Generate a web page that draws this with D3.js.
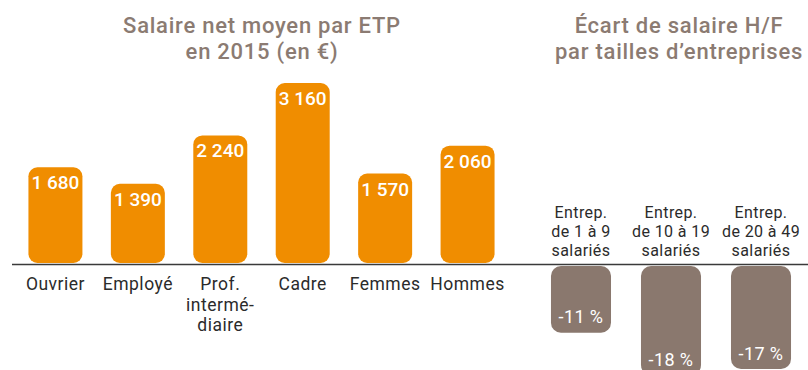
<!DOCTYPE html>
<html>
<head>
<meta charset="utf-8">
<script src="https://cdn.jsdelivr.net/npm/d3@7"></script>
<style>
  html, body { margin: 0; padding: 0; background: #fff; }
  svg { display: block; font-family: "Roboto", "DejaVu Sans", sans-serif; }
</style>
</head>
<body>
<svg id="chart" width="808" height="370"></svg>
<script>
// Salaire net moyen par ETP en 2015 (en €)
const salaryCategories = ["Ouvrier", "Employé", "Prof. intermé- diaire", "Cadre", "Femmes", "Hommes"];
const salaryLabelLines = [["Ouvrier"], ["Employé"], ["Prof.", "intermé-", "diaire"], ["Cadre"], ["Femmes"], ["Hommes"]];
const salaryValues = [1680, 1390, 2240, 3160, 1570, 2060];

// Écart de salaire H/F par tailles d'entreprises (en %)
const gapCategories = ["1-9", "10-19", "20-49"];
const gapLabelLines = [["Entrep.", "de 1 à 9", "salariés"], ["Entrep.", "de 10 à 19", "salariés"], ["Entrep.", "de 20 à 49", "salariés"]];
const gapValues = [-11, -18, -17];

const titleLeft = ["Salaire net moyen par ETP", "en 2015 (en €)"];
const titleRight = ["Écart de salaire H/F", "par tailles d’entreprises"];

const ORANGE = "#F08D00";
const TAUPE = "#8A786E";
const TITLE = "#8B7B72";
const INK = "#2b2b2b";

const svg = d3.select("#chart");
const fmt = v => d3.format(",")(v).replace(/,/g, " ");

// ---- Left panel: salaries ----
const xL = d3.scaleBand().domain(salaryCategories).range([0, 523]).paddingInner(0.345).paddingOuter(0.345);
const yL = d3.scaleLinear().domain([0, 3160]).range([263, 83]);

const left = svg.append("g");
left.selectAll("rect").data(salaryValues).join("rect")
  .attr("x", (d, i) => xL(salaryCategories[i]))
  .attr("width", xL.bandwidth())
  .attr("y", d => yL(d))
  .attr("height", d => yL(0) - yL(d))
  .attr("rx", 9).attr("ry", 9)
  .attr("fill", ORANGE);

left.selectAll("text.val").data(salaryValues).join("text")
  .attr("class", "val")
  .attr("x", (d, i) => xL(salaryCategories[i]) + xL.bandwidth() / 2)
  .attr("y", d => yL(d) + 22)
  .attr("text-anchor", "middle")
  .attr("fill", "#fff")
  .attr("font-size", 19)
  .attr("font-weight", 500)
  .text(d => fmt(d));

left.selectAll("text.cat").data(salaryLabelLines).join("text")
  .attr("class", "cat")
  .attr("text-anchor", "middle")
  .attr("fill", INK)
  .attr("font-size", 17.5)
  .attr("letter-spacing", 0.5)
  .each(function(lines, i) {
    const t = d3.select(this);
    const cx = xL(salaryCategories[i]) + xL.bandwidth() / 2;
    lines.forEach((ln, j) => {
      t.append("tspan").attr("x", cx).attr("y", 290 + j * 20.5).text(ln);
    });
  });

// ---- Right panel: pay gap ----
const xR = d3.scaleBand().domain(gapCategories).range([521, 821]).paddingInner(0.333).paddingOuter(0.333);
const yR = d3.scaleLinear().domain([0, -17]).range([266, 369]);

const right = svg.append("g");
right.selectAll("rect").data(gapValues).join("rect")
  .attr("x", (d, i) => xR(gapCategories[i]))
  .attr("width", xR.bandwidth())
  .attr("y", yR(0))
  .attr("height", d => yR(d) - yR(0))
  .attr("rx", 10).attr("ry", 10)
  .attr("fill", TAUPE);

right.selectAll("text.val").data(gapValues).join("text")
  .attr("class", "val")
  .attr("x", (d, i) => xR(gapCategories[i]) + xR.bandwidth() / 2)
  .attr("y", d => yR(d) - 9.5)
  .attr("text-anchor", "middle")
  .attr("fill", "#fff")
  .attr("font-size", 18)
  .attr("letter-spacing", 0.4)
  .text(d => d + " %");

right.selectAll("text.cat").data(gapLabelLines).join("text")
  .attr("class", "cat")
  .attr("text-anchor", "middle")
  .attr("fill", INK)
  .attr("font-size", 16)
  .attr("letter-spacing", 0.4)
  .each(function(lines, i) {
    const t = d3.select(this);
    const cx = xR(gapCategories[i]) + xR.bandwidth() / 2;
    lines.forEach((ln, j) => {
      t.append("tspan").attr("x", cx).attr("y", 218 + j * 18.8).text(ln);
    });
  });

// Baseline
svg.append("line")
  .attr("x1", 12).attr("x2", 808)
  .attr("y1", 264.5).attr("y2", 264.5)
  .attr("stroke", "#3a3a3a").attr("stroke-width", 1.5);

// Titles
function title(lines, cx) {
  const t = svg.append("text")
    .attr("text-anchor", "middle")
    .attr("fill", TITLE)
    .attr("font-size", 22)
    .attr("font-weight", 500)
    .attr("letter-spacing", 0.75);
  lines.forEach((ln, j) => t.append("tspan").attr("x", cx).attr("y", 33 + j * 26).text(ln));
}
title(titleLeft, 262);
title(titleRight, 679);
</script>
</body>
</html>
